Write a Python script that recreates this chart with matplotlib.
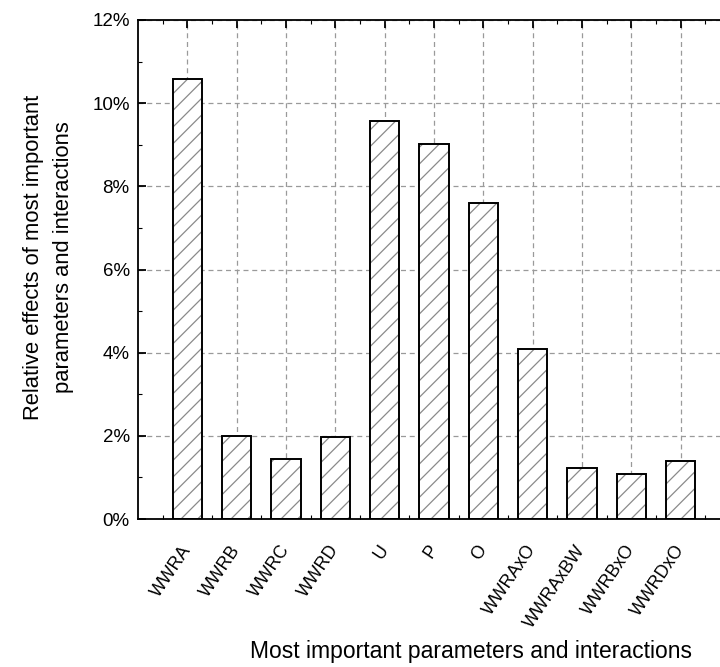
import matplotlib
matplotlib.use("Agg")
import matplotlib.pyplot as plt
from matplotlib.ticker import MultipleLocator, FuncFormatter
from matplotlib.transforms import ScaledTranslation

plt.rcParams['font.family'] = ['Liberation Sans', 'DejaVu Sans']
plt.rcParams['hatch.linewidth'] = 0.9

# relative effects (%) of the main parameters and interactions
labels = ['WWRA', 'WWRB', 'WWRC', 'WWRD', 'U', 'P', 'O',
          'WWRAxO', 'WWRAxBW', 'WWRBxO', 'WWRDxO']
effects = [10.58, 2.00, 1.45, 1.97, 9.57, 9.03, 7.59, 4.08, 1.22, 1.09, 1.40]

pos = list(range(1, len(labels) + 1))

fig = plt.figure(figsize=(7.2, 6.67), dpi=100)
ax = fig.add_axes([138 / 720, 1 - 519 / 667, 592 / 720, 499 / 667])

# hatched fill in grey, black outline drawn on top
ax.bar(pos, effects, width=0.6, color='white', edgecolor='#8a8a8a',
       hatch='//', linewidth=0, zorder=2)
ax.bar(pos, effects, width=0.6, fill=False, edgecolor='black',
       linewidth=1.4, zorder=3)

ax.set_xlim(0, 12)
ax.set_ylim(0, 12)
ax.yaxis.set_major_locator(MultipleLocator(2))
ax.yaxis.set_minor_locator(MultipleLocator(1))
ax.yaxis.set_major_formatter(FuncFormatter(lambda v, p: f'{v:.0f}%'))
ax.set_xticks(pos)
ax.set_xticks([p + 0.5 for p in range(0, 12)], minor=True)
ax.set_xticklabels(labels, rotation=56, ha='right', va='center',
                   rotation_mode='anchor', fontsize=12.8)

# nudge the slanted labels a little to the right
shift = ScaledTranslation(4 / 100, 0, fig.dpi_scale_trans)
for lbl in ax.get_xticklabels():
    lbl.set_transform(lbl.get_transform() + shift)

ax.tick_params(axis='both', which='major', direction='in', length=6,
               width=1.3, top=True, right=False, labelsize=13.5, pad=6)
ax.tick_params(axis='x', which='major', pad=20, labelsize=12.8)
ax.tick_params(axis='both', which='minor', direction='in', length=3,
               width=0.8, top=True, right=False)

ax.grid(True, which='major', color='#9a9a9a', linestyle=(0, (4, 3)),
        linewidth=0.9, zorder=0)
ax.set_axisbelow(True)

for side in ['left', 'bottom', 'top']:
    ax.spines[side].set_linewidth(1.3)
ax.spines['right'].set_visible(False)

ax.set_ylabel('Relative effects of most important\nparameters and interactions',
              fontsize=15.8, multialignment='center', linespacing=1.55)
ax.yaxis.set_label_coords(-0.108, 0.525)
ax.set_xlabel('Most important parameters and interactions', fontsize=16.5)
ax.xaxis.set_label_coords(0.5625, -0.243)

fig.savefig('out.png', dpi=100)
